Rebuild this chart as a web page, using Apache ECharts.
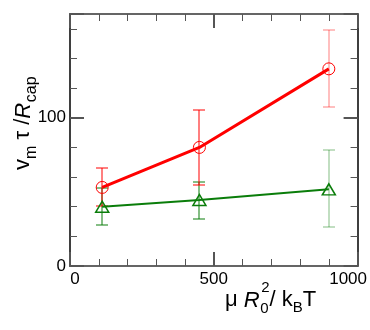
<!DOCTYPE html>
<html>
<head>
<meta charset="utf-8">
<script src="https://cdn.jsdelivr.net/npm/echarts@6/dist/echarts.min.js"></script>
<style>
html,body{margin:0;padding:0;background:#fff;}
#c{width:370px;height:330px;}
</style>
</head>
<body>
<div id="c"></div>
<script>
// ---- data ----
const xValues   = [112, 450, 900];
const redY      = [53, 80, 133];
const redLow    = [40.5, 54.5, 107.5];
const redHigh   = [66, 105.5, 159.5];
const greenY    = [40, 44.5, 51.7];
const greenLow  = [27.5, 32, 26.5];
const greenHigh = [52.5, 57, 78];
const xTickLabels = [0, 500, 1000];
const yTickLabels = [0, 100];

// ---- styling ----
const RED = '#ff0000';
const GREEN = '#0a7d0a';
const FONT = '"Liberation Sans", Arial, sans-serif';
const AXIS_COLOR = '#333';
const TICK_COLOR = '#555';

const chart = echarts.init(document.getElementById('c'), null, {renderer: 'canvas'});

const ctx = document.createElement('canvas').getContext('2d');
function tw(t, size, italic) {
  ctx.font = (italic ? 'italic ' : '') + size + 'px ' + FONT;
  return ctx.measureText(t).width;
}
function txt(t, x, baseY, size, italic) {
  return {
    type: 'text', x: x, y: baseY - 0.3465 * size,
    style: {text: t, fontSize: size, fontFamily: FONT, fontStyle: italic ? 'italic' : 'normal',
            fill: '#000', verticalAlign: 'middle', align: 'left'}
  };
}
function layoutPieces(pieces) {
  const out = [];
  let x = 0;
  pieces.forEach(p => {
    if (p.stack) {
      let maxW = 0;
      p.stack.forEach(s => {
        out.push(txt(s.t, x + (s.dx || 0), s.dy || 0, s.size, s.italic));
        maxW = Math.max(maxW, tw(s.t, s.size, s.italic) + (s.dx || 0));
      });
      x += maxW;
    } else {
      out.push(txt(p.t, x + (p.dx || 0), p.dy || 0, p.size, p.italic));
      x += tw(p.t, p.size, p.italic) + (p.dx || 0) + (p.gap || 0);
    }
  });
  return out;
}

const XF = 22, XS = 15;
const xTitle = layoutPieces([
  {t: 'μ ', size: XF},
  {t: 'R', size: XF, italic: true, gap: 0.5},
  {stack: [{t: '0', size: XS, dy: 6}, {t: '2', size: XS, dy: -15, dx: 1}]},
  {t: '/ k', size: XF},
  {t: 'B', size: XS, dy: 5},
  {t: 'T', size: XF}
]);
const YF = 22, YS = 16;
const yTitle = layoutPieces([
  {t: 'v', size: YF},
  {t: 'm', size: YS, dy: 6},
  {t: ' τ /', size: YF},
  {t: 'R', size: YF, italic: true, gap: 0.5},
  {t: 'cap', size: YS, dy: 6}
]);

// error bars drawn as thin filled rectangles
function errRender(color) {
  return function (params, api) {
    const x = api.value(0), lo = api.value(1), hi = api.value(2);
    const p1 = api.coord([x, lo]), p2 = api.coord([x, hi]);
    const cx = Math.round(p1[0]);
    const yLo = Math.round(p1[1]), yHi = Math.round(p2[1]);
    const hw = 6;
    const op = params.dataIndex === 2 ? 0.5 : 1;
    const st = {fill: color, stroke: null, opacity: op};
    return {
      type: 'group',
      children: [
        {type: 'rect', shape: {x: cx - 0.5, y: yHi, width: 1, height: yLo - yHi}, style: st},
        {type: 'rect', shape: {x: cx - hw, y: yLo - 0.5, width: 2 * hw, height: 1}, style: st},
        {type: 'rect', shape: {x: cx - hw, y: yHi - 0.5, width: 2 * hw, height: 1}, style: st}
      ]
    };
  };
}

const axisLine = {show: true, onZero: false, lineStyle: {color: AXIS_COLOR, width: 1.5}};
function xAx(pos, labels) {
  return {
    type: 'value', position: pos, min: 0, max: 1000, interval: 500,
    axisLine: axisLine,
    axisTick: {show: true, inside: true, length: 14, lineStyle: {color: TICK_COLOR, width: 2}},
    minorTick: {show: true, splitNumber: 5, length: 7, lineStyle: {color: TICK_COLOR, width: 1}},
    splitLine: {show: false}, minorSplitLine: {show: false},
    axisLabel: {
      show: labels, margin: 5, color: '#000', fontSize: 17, fontFamily: FONT,
      formatter: function (v) {
        if (xTickLabels.indexOf(v) < 0) return '';
        if (v === 0) return '{l|' + v + '}';
        if (v === 1000) return '{r|' + v + '}';
        return '{m|' + v + '}';
      },
      rich: {
        l: {fontSize: 17, fontFamily: FONT, color: '#000', padding: [0, 0, 0, 10]},
        m: {fontSize: 17, fontFamily: FONT, color: '#000'},
        r: {fontSize: 17, fontFamily: FONT, color: '#000', padding: [0, 19, 0, 0]}
      }
    }
  };
}
function yAx(pos, interval, tickLen, tickW, labels) {
  return {
    type: 'value', position: pos, min: 0, max: 170, interval: interval,
    axisLine: axisLine,
    axisTick: {show: true, inside: true, length: tickLen, lineStyle: {color: TICK_COLOR, width: tickW}},
    splitLine: {show: false},
    axisLabel: {
      show: labels, margin: 4, color: '#000', fontSize: 17, fontFamily: FONT,
      formatter: function (v) { return yTickLabels.indexOf(v) >= 0 ? String(v) : ''; }
    }
  };
}

const option = {
  animation: false,
  backgroundColor: '#fff',
  grid: {left: 70, right: 12, top: 14, bottom: 64, containLabel: false},
  xAxis: [xAx('bottom', true), xAx('top', false)],
  yAxis: [
    yAx('left', 100, 14, 2, true),
    yAx('left', 20, 7, 1, false),
    yAx('right', 100, 14, 2, false),
    yAx('right', 20, 7, 1, false)
  ],
  graphic: [
    {type: 'group', x: 225, y: 308, children: xTitle},
    {type: 'group', x: 31, y: 170, rotation: Math.PI / 2, children: yTitle}
  ],
  series: [
    {
      type: 'custom', name: 'greenErr', renderItem: errRender(GREEN),
      data: xValues.map((x, i) => [x, greenLow[i], greenHigh[i]]),
      encode: {x: 0, y: [1, 2]}, z: 2
    },
    {
      type: 'custom', name: 'redErr', renderItem: errRender(RED),
      data: xValues.map((x, i) => [x, redLow[i], redHigh[i]]),
      encode: {x: 0, y: [1, 2]}, z: 2
    },
    {
      type: 'line', name: 'green', data: xValues.map((x, i) => [x, greenY[i]]),
      symbol: 'triangle', symbolSize: [13, 11], showSymbol: true,
      lineStyle: {color: GREEN, width: 2},
      itemStyle: {color: 'rgba(0,0,0,0)', borderColor: GREEN, borderWidth: 1.5},
      z: 3
    },
    {
      type: 'line', name: 'red', data: xValues.map((x, i) => [x, redY[i]]),
      symbol: 'circle', symbolSize: 12, showSymbol: true,
      lineStyle: {color: RED, width: 3},
      itemStyle: {color: 'rgba(0,0,0,0)', borderColor: RED, borderWidth: 1},
      z: 4
    }
  ]
};
chart.setOption(option);
</script>
</body>
</html>
